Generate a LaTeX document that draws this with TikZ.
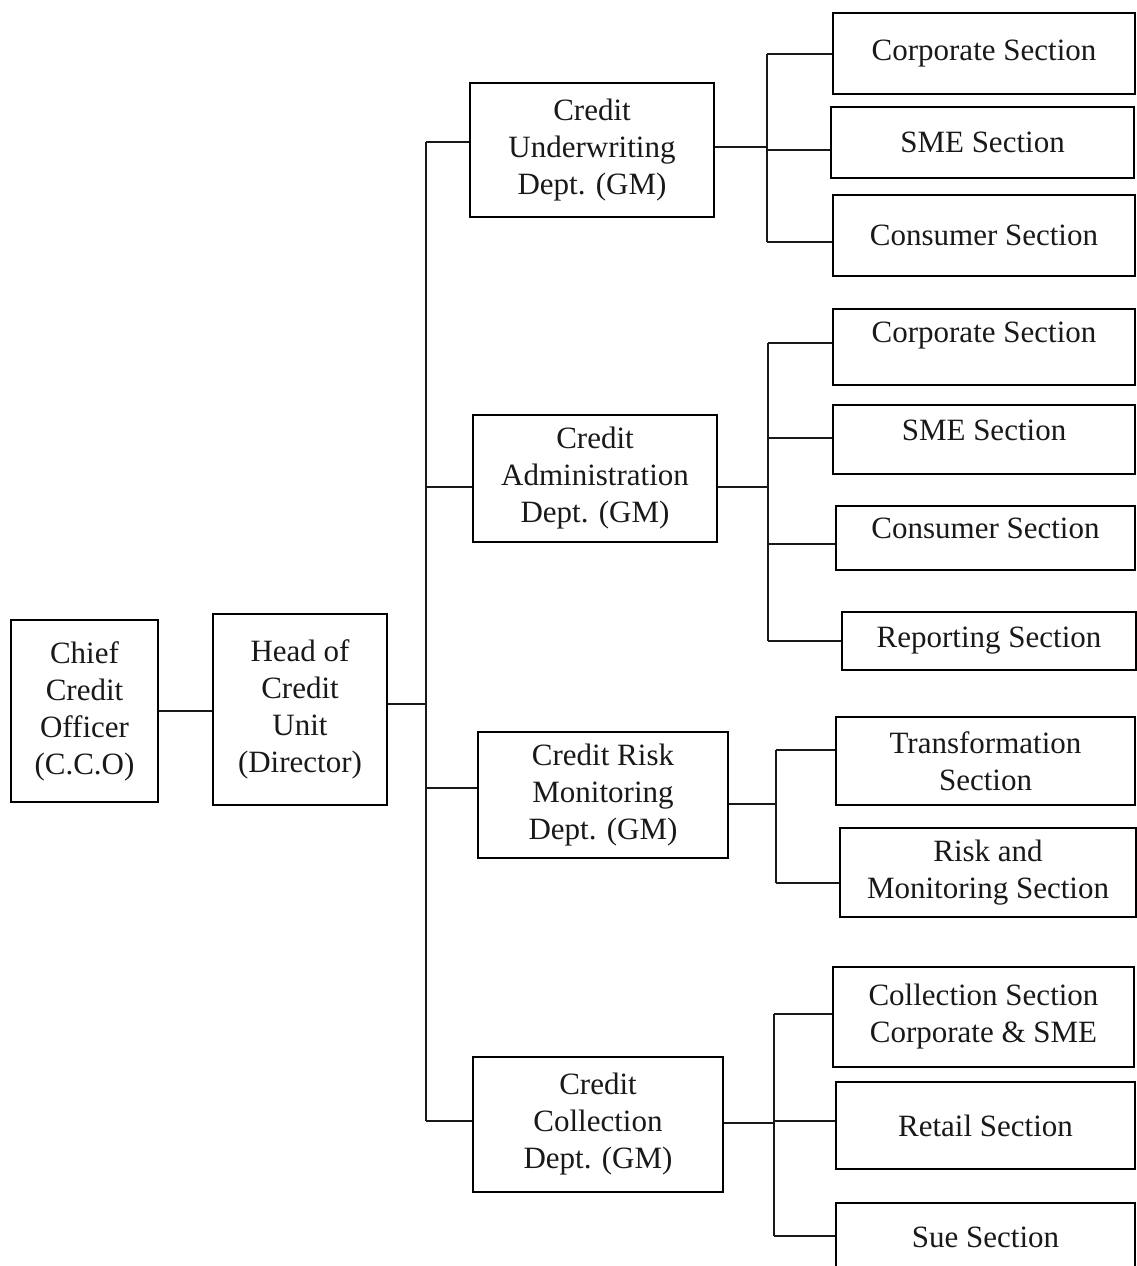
\documentclass[tikz,border=0pt]{standalone}
\usepackage{fontspec}
\setmainfont{Liberation Serif}
\begin{document}
\begin{tikzpicture}[x=1pt,y=-1pt,
  orgbox/.style={draw=black, line width=2.4pt, inner sep=0pt, align=center,
    font=\fontsize{31}{37}\selectfont, text=black!90},
  link/.style={draw=black!90, line width=2.3pt}]
\clip (0,0) rectangle (1137,1266);
\fill[white] (0,0) rectangle (1137,1266);

% main chain
\node[orgbox, minimum width=147pt, minimum height=182pt] (cco) at (84.5,711) {Chief\\Credit\\Officer\\(C.C.O)};
\node[orgbox, minimum width=174pt, minimum height=191pt] (head) at (300,709.5) {Head of\\Credit\\Unit\\(Director)};

% departments
\node[orgbox, minimum width=244pt, minimum height=134pt] (uw) at (592,150) {Credit\\Underwriting\\Dept. (GM)};
\node[orgbox, minimum width=244pt, minimum height=127pt] (adm) at (595,478.5) {Credit\\Administration\\Dept. (GM)};
\node[orgbox, minimum width=250pt, minimum height=126pt] (rm) at (603,795) {Credit Risk\\Monitoring\\Dept. (GM)};
\node[orgbox, minimum width=250pt, minimum height=135pt] (col) at (598,1124.5) {Credit\\Collection\\Dept. (GM)};

% sections
\node[orgbox, minimum width=302pt, minimum height=81pt] (s1) at (984,53.5) {Corporate Section};
\node[orgbox, minimum width=303pt, minimum height=71pt] (s2) at (982.5,142.5) {SME Section};
\node[orgbox, minimum width=302pt, minimum height=81pt] (s3) at (984,235.5) {Consumer Section};

\node[orgbox, minimum width=302pt, minimum height=76pt, text depth=30pt] (a1) at (984,347) {Corporate Section};
\node[orgbox, minimum width=302pt, minimum height=69pt, text depth=18pt] (a2) at (984,439.5) {SME Section};
\node[orgbox, minimum width=299pt, minimum height=64pt, text depth=20pt] (a3) at (985.5,538) {Consumer Section};
\node[orgbox, minimum width=294pt, minimum height=58pt] (a4) at (989,641) {Reporting Section};

\node[orgbox, minimum width=299pt, minimum height=88pt] (r1) at (985.5,761) {Transformation\\Section};
\node[orgbox, minimum width=296pt, minimum height=89pt] (r2) at (988,872.5) {Risk and\\Monitoring Section};

\node[orgbox, minimum width=301pt, minimum height=100pt] (c1) at (983.5,1017) {Collection Section\\Corporate \& SME};
\node[orgbox, minimum width=299pt, minimum height=87pt] (c2) at (985.5,1125.5) {Retail Section};
\node[orgbox, minimum width=299pt, minimum height=68pt] (c3) at (985.5,1237) {Sue Section};

% trunk coordinates
\coordinate (hj) at (426,704);
\coordinate (t1) at (426,142);
\coordinate (t2) at (426,487);
\coordinate (t3) at (426,788);
\coordinate (t4) at (426,1121);

\draw[link] (cco.east) -- (cco.east -| head.west);
\draw[link] (head.east |- hj) -- (hj);
\draw[link] (t1) -- (t4);
\draw[link] (t1) -- (t1 -| uw.west);
\draw[link] (t2) -- (t2 -| adm.west);
\draw[link] (t3) -- (t3 -| rm.west);
\draw[link] (t4) -- (t4 -| col.west);

% underwriting sub-tree
\coordinate (u0) at (767,147);
\coordinate (u1) at (767,54);
\coordinate (u2) at (767,150);
\coordinate (u3) at (767,242);
\draw[link] (uw.east |- u0) -- (u0);
\draw[link] (u1) -- (u3);
\draw[link] (u1) -- (u1 -| s1.west);
\draw[link] (u2) -- (u2 -| s2.west);
\draw[link] (u3) -- (u3 -| s3.west);

% administration sub-tree
\coordinate (d0) at (768,487);
\coordinate (d1) at (768,343);
\coordinate (d2) at (768,438);
\coordinate (d3) at (768,544);
\coordinate (d4) at (768,641);
\draw[link] (adm.east |- d0) -- (d0);
\draw[link] (d1) -- (d4);
\draw[link] (d1) -- (d1 -| a1.west);
\draw[link] (d2) -- (d2 -| a2.west);
\draw[link] (d3) -- (d3 -| a3.west);
\draw[link] (d4) -- (d4 -| a4.west);

% risk monitoring sub-tree
\coordinate (m0) at (776,804);
\coordinate (m1) at (776,750);
\coordinate (m2) at (776,883);
\draw[link] (rm.east |- m0) -- (m0);
\draw[link] (m1) -- (m2);
\draw[link] (m1) -- (m1 -| r1.west);
\draw[link] (m2) -- (m2 -| r2.west);

% collection sub-tree
\coordinate (k0) at (774,1123);
\coordinate (k1) at (774,1014);
\coordinate (k2) at (774,1121);
\coordinate (k3) at (774,1236);
\draw[link] (col.east |- k0) -- (k0);
\draw[link] (k1) -- (k3);
\draw[link] (k1) -- (k1 -| c1.west);
\draw[link] (k2) -- (k2 -| c2.west);
\draw[link] (k3) -- (k3 -| c3.west);
\end{tikzpicture}
\end{document}
